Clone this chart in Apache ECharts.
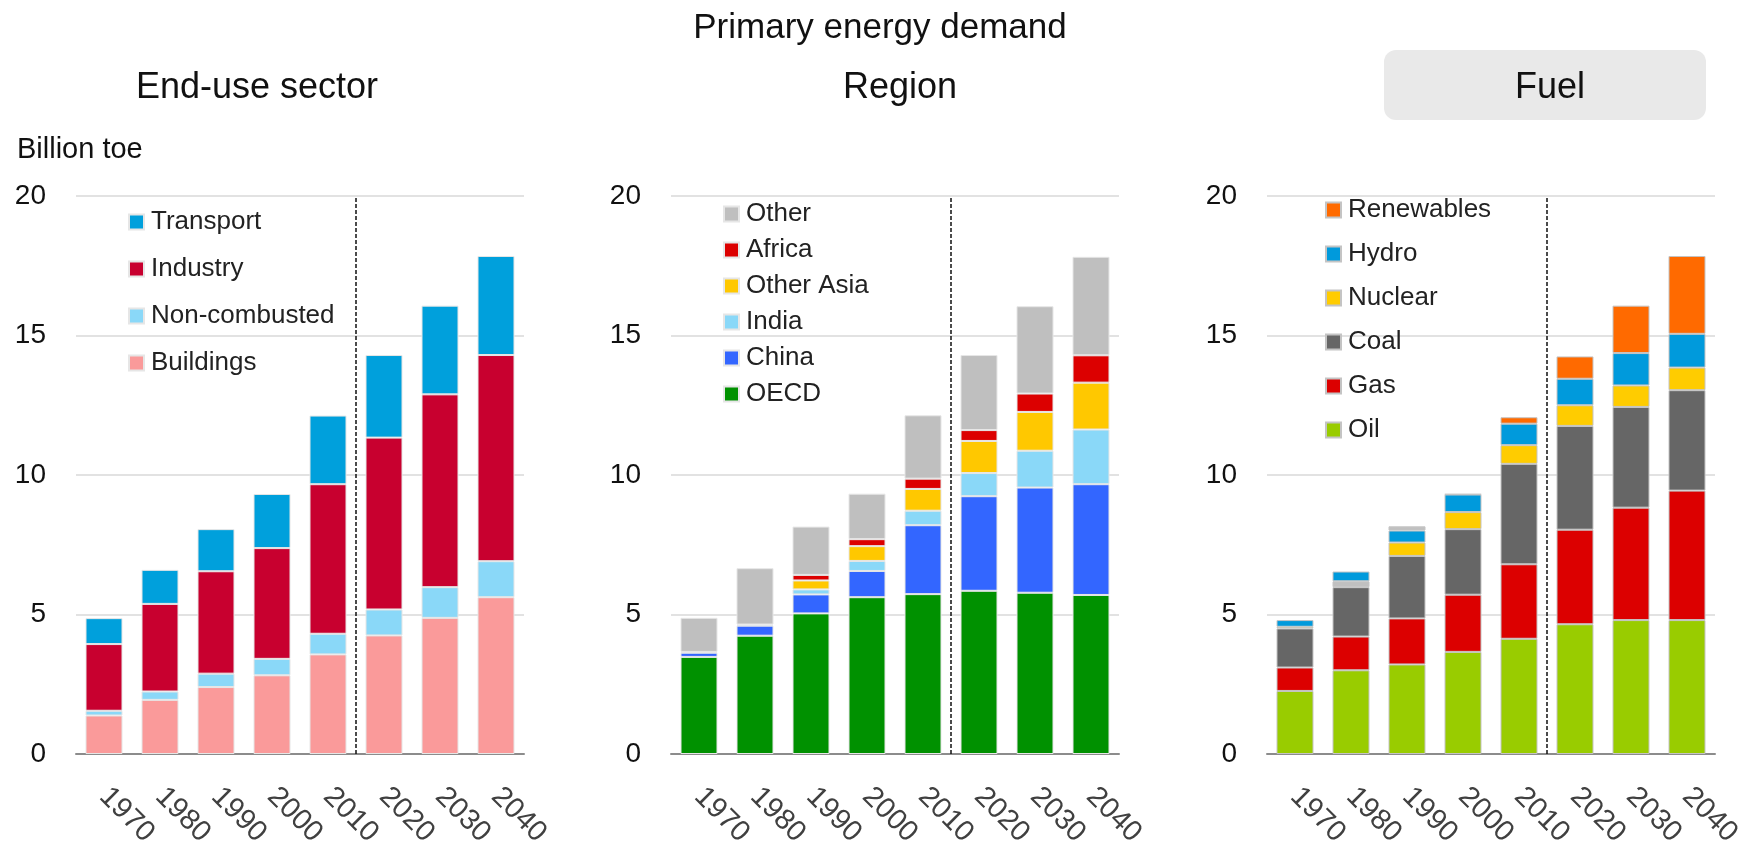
<!DOCTYPE html>
<html>
<head>
<meta charset="utf-8">
<script src="https://cdn.jsdelivr.net/npm/echarts@6/dist/echarts.min.js"></script>
<style>
html,body{margin:0;padding:0;background:#fff;}
#chart{width:1760px;height:850px;}
</style>
</head>
<body>
<div id="chart"></div>
<script>
// ---------- DATA ----------
const years = ['1970','1980','1990','2000','2010','2020','2030','2040'];
const projectionStartYear = '2020';

// End-use sector (billion toe), bottom to top
const buildings    = [1.38, 1.94, 2.40, 2.82, 3.57, 4.25, 4.88, 5.62];
const nonCombusted = [0.17, 0.30, 0.48, 0.59, 0.74, 0.93, 1.10, 1.29];
const industry     = [2.39, 3.14, 3.67, 3.97, 5.36, 6.16, 6.91, 7.39];
const transport    = [0.93, 1.22, 1.51, 1.94, 2.46, 2.96, 3.18, 3.55];

// Region (billion toe), bottom to top
const oecd        = [3.48, 4.24, 5.04, 5.62, 5.73, 5.85, 5.78, 5.70];
const china       = [0.15, 0.36, 0.68, 0.94, 2.47, 3.39, 3.77, 3.97];
const india       = [0.03, 0.04, 0.18, 0.36, 0.52, 0.83, 1.32, 1.96];
const otherAsia   = [0.00, 0.00, 0.32, 0.53, 0.78, 1.15, 1.39, 1.68];
const africa      = [0.00, 0.00, 0.20, 0.25, 0.37, 0.39, 0.66, 0.98];
const otherRegion = [1.22, 2.02, 1.73, 1.63, 2.27, 2.69, 3.13, 3.53];

// Fuel (billion toe), bottom to top
const oil        = [2.26, 3.00, 3.21, 3.66, 4.13, 4.65, 4.80, 4.80];
const gas        = [0.84, 1.21, 1.65, 2.05, 2.67, 3.39, 4.03, 4.64];
const coal       = [1.40, 1.77, 2.24, 2.35, 3.60, 3.72, 3.61, 3.60];
const nuclear    = [0.06, 0.21, 0.48, 0.61, 0.67, 0.74, 0.77, 0.81];
const hydro      = [0.24, 0.35, 0.43, 0.63, 0.77, 0.95, 1.16, 1.21];
const renewables = [0.00, 0.00, 0.15, 0.02, 0.23, 0.80, 1.70, 2.79];

// ---------- PANELS ----------
const FONT = '"Liberation Sans", Arial, Helvetica, sans-serif';
const panels = [
  {
    title: 'End-use sector',
    names:  ['Buildings','Non-combusted','Industry','Transport'],
    values: [buildings, nonCombusted, industry, transport],
    colors: ['#FA9A9A','#8AD8F8','#C8002F','#00A0DC'],
    border: '#e6e6e6'
  },
  {
    title: 'Region',
    names:  ['OECD','China','India','Other Asia','Africa','Other'],
    values: [oecd, china, india, otherAsia, africa, otherRegion],
    colors: ['#009100','#3366FF','#8AD8F8','#FFC800','#DC0000','#BFBFBF'],
    border: '#e6e6e6'
  },
  {
    title: 'Fuel',
    names:  ['Oil','Gas','Coal','Nuclear','Hydro','Renewables'],
    values: [oil, gas, coal, nuclear, hydro, renewables],
    colors: ['#99CC00','#DC0000','#666666','#FFCC00','#009ADC','#FF6A00'],
    border: '#c4c4c4',
    grayItems: {Nuclear: [1], Renewables: [2]}
  }
];

const gridLefts = [76, 671, 1267];
const gridTop = 196, gridHeight = 558, gridWidth = 448;
const legendPos = [
  {left: 123, top: 204, gap: 21},
  {left: 718, top: 196, gap: 10},
  {left: 1320, top: 192, gap: 18}
];
const titleCenters = [252, 895, 1545];

const boundary = years.indexOf(projectionStartYear);

const grids = [], xAxes = [], yAxes = [], series = [], legends = [];
panels.forEach((p, i) => {
  grids.push({left: gridLefts[i], top: gridTop, width: gridWidth, height: gridHeight});
  xAxes.push({
    type: 'category', gridIndex: i, data: years,
    axisLine: {show: true, lineStyle: {color: '#8c8c8c', width: 2}},
    axisTick: {show: false},
    axisLabel: {rotate: -45, align: 'left', verticalAlign: 'middle', margin: 38,
      fontSize: 29, color: '#404040', fontFamily: FONT, interval: 0}
  });
  yAxes.push({
    type: 'value', gridIndex: i, min: 0, max: 20, interval: 5,
    axisLine: {show: false}, axisTick: {show: false},
    axisLabel: {fontSize: 28, color: '#111', fontFamily: FONT, margin: 30},
    splitLine: {lineStyle: {color: '#d9d9d9', width: 1.5}}
  });
  p.names.forEach((n, k) => {
    const gray = (p.grayItems && p.grayItems[n]) || [];
    series.push({
      name: n, type: 'bar', stack: 'p' + i, xAxisIndex: i, yAxisIndex: i,
      barWidth: 37,
      itemStyle: {color: p.colors[k], borderColor: p.border, borderWidth: 1},
      data: p.values[k].map((v, j) => {
        if (v === 0) return '-';
        if (gray.indexOf(j) >= 0) return {value: v, itemStyle: {color: '#c0c0c0'}};
        return v;
      })
    });
  });
  legends.push({
    orient: 'vertical', left: legendPos[i].left, top: legendPos[i].top,
    itemGap: legendPos[i].gap, itemWidth: 15, itemHeight: 15, icon: 'rect',
    selectedMode: false,
    data: p.names.slice().reverse(),
    textStyle: {fontSize: 26, color: '#222', fontFamily: FONT, lineHeight: 26, padding: [0,0,0,2]}
  });
});

// hidden value x axes for the projection divider
panels.forEach((p, i) => {
  xAxes.push({type: 'value', gridIndex: i, min: 0, max: years.length, show: false});
  series.push({
    type: 'line', xAxisIndex: 3 + i, yAxisIndex: i, data: [[boundary, 0]],
    symbolSize: 0, showSymbol: false, silent: true, lineStyle: {opacity: 0},
    markLine: {
      symbol: 'none', silent: true, animation: false, label: {show: false},
      lineStyle: {color: '#111', type: [4, 2], width: 1.5},
      data: [{xAxis: boundary}]
    }
  });
});

const titles = [
  {text: 'Primary energy demand', left: 'center', top: 6,
   textStyle: {fontSize: 35, fontWeight: 'normal', color: '#111', fontFamily: FONT}},
  {text: 'Billion toe', left: 12, top: 130,
   textStyle: {fontSize: 29, fontWeight: 'normal', color: '#111', fontFamily: FONT}}
];
panels.forEach((p, i) => {
  titles.push({text: p.title, left: titleCenters[i], textAlign: 'center', top: 65,
    textStyle: {fontSize: 36, fontWeight: 'normal', color: '#111', fontFamily: FONT}});
});

const chart = echarts.init(document.getElementById('chart'), null, {renderer: 'canvas'});
chart.setOption({
  animation: false,
  backgroundColor: '#fff',
  graphic: [{
    type: 'rect', left: 1384, top: 50, z: -1,
    shape: {width: 322, height: 70, r: 12},
    style: {fill: '#e9e9e9'}
  }],
  title: titles,
  legend: legends,
  grid: grids,
  xAxis: xAxes,
  yAxis: yAxes,
  series: series
});
</script>
</body>
</html>
